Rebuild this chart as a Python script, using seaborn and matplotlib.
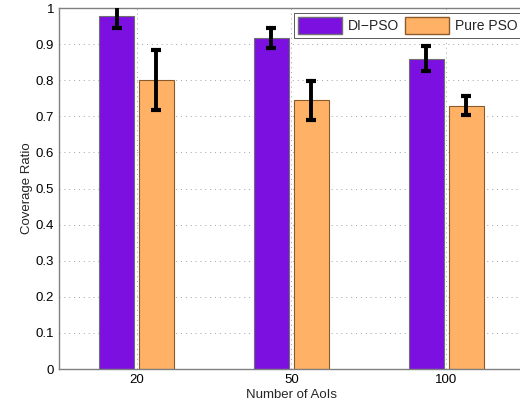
import matplotlib
matplotlib.use('Agg')
import matplotlib.pyplot as plt
import pandas as pd
import seaborn as sns

categories = ['20', '50', '100']
methods = ['DI\u2212PSO', 'Pure PSO']
di_pso = [0.977, 0.917, 0.860]
di_pso_err = [0.031, 0.028, 0.035]
pure_pso = [0.800, 0.745, 0.729]
pure_pso_err = [0.083, 0.054, 0.026]

df = pd.DataFrame({
    'Number of AoIs': categories * 2,
    'Coverage Ratio': di_pso + pure_pso,
    'Method': [methods[0]] * 3 + [methods[1]] * 3,
})
errs = di_pso_err + pure_pso_err

sns.set_style('white')
plt.rcParams['font.family'] = ['Liberation Sans', 'DejaVu Sans']

fig = plt.figure(figsize=(5.2, 4.13), dpi=100)
ax = fig.add_axes([0.1135, 0.1065, 0.894, 0.874])

palette = {methods[0]: '#7B10E0', methods[1]: '#FFB266'}
sns.barplot(data=df, x='Number of AoIs', y='Coverage Ratio', hue='Method',
            order=categories, hue_order=methods, palette=palette,
            width=0.516, gap=0.124, errorbar=None, saturation=1,
            ax=ax, zorder=2)

edges = ['#707070', '#8B5A2B']
for i, patch in enumerate(ax.patches[:6]):
    patch.set_edgecolor(edges[i // 3])
    patch.set_linewidth(0.8)
    cx = patch.get_x() + patch.get_width() / 2
    ax.errorbar(cx, patch.get_height(), yerr=errs[i], fmt='none',
                ecolor='black', elinewidth=2.8, capsize=3.5, capthick=3,
                zorder=4, clip_on=True)

ax.set_ylim(0, 1)
ax.set_xlim(-0.5, 2.5)
ax.set_yticks([0, 0.1, 0.2, 0.3, 0.4, 0.5, 0.6, 0.7, 0.8, 0.9, 1])
ax.set_yticklabels(['0', '0.1', '0.2', '0.3', '0.4', '0.5', '0.6', '0.7', '0.8', '0.9', '1'])
ax.grid(True, linestyle=(0, (1, 4)), color='#a0a0a0', linewidth=0.7, zorder=0)
ax.set_axisbelow(True)
for s in ax.spines.values():
    s.set_color('#808080')
    s.set_linewidth(1)
ax.tick_params(labelsize=9.5, direction='in', length=3, colors='black')
ax.set_xlabel('Number of AoIs', fontsize=9.5, labelpad=2)
ax.set_ylabel('Coverage Ratio', fontsize=9.5, labelpad=2)

handles, labels = ax.get_legend_handles_labels()
for h, ec in zip(handles, edges):
    h.set_edgecolor(ec)
leg = ax.legend(handles, labels, loc='upper right', bbox_to_anchor=(0.995, 0.987),
                ncol=2, fontsize=10, frameon=True, fancybox=False, framealpha=1,
                handlelength=3.2, handleheight=1.5, columnspacing=0.4,
                handletextpad=0.4, borderpad=0.3, borderaxespad=0.0)
leg.get_frame().set_edgecolor('#404040')
leg.get_frame().set_linewidth(0.6)

fig.savefig('out.png', dpi=100)
